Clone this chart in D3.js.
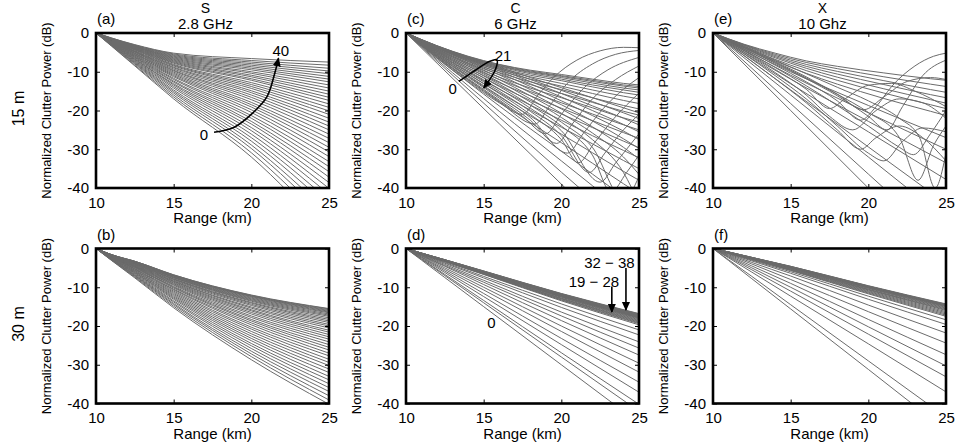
<!DOCTYPE html>
<html lang="en">
  <head>
    <meta charset="UTF-8" />
    <script src="https://d3js.org/d3.v7.min.js"></script>
    <title>Normalized clutter power vs range</title>
    <style>
      body { margin: 0; background: #fff; }
      text { font-family: "Liberation Sans", Arial, sans-serif; fill: #000; }
    </style>
  </head>

  <body>
    <script>
      // range grids (km) the smooth curves were read at
      const rangeFan = [10, 11, 12.5, 15, 20, 25];
      const rangeC15 = [10, 12, 14, 16, 18, 20, 22, 24, 25];

      // (a) S band, 15 m  (dB, one row per curve)
      const sBand15 = [
        [0,-3.4,-8.5,-17.0,-32.0,-52.0],[0,-3.3,-8.3,-16.5,-30.9,-50.0],[0,-3.2,-8.0,-16.0,-29.8,-48.2],
        [0,-3.1,-7.8,-15.5,-28.9,-46.5],[0,-3.1,-7.6,-15.1,-27.9,-44.8],[0,-3.0,-7.4,-14.7,-27.0,-43.2],
        [0,-2.9,-7.2,-14.2,-26.1,-41.6],[0,-2.8,-7.0,-13.8,-25.2,-40.1],[0,-2.8,-6.8,-13.4,-24.4,-38.6],
        [0,-2.7,-6.7,-13.1,-23.5,-37.2],[0,-2.6,-6.5,-12.7,-22.8,-35.8],[0,-2.6,-6.3,-12.4,-22.0,-34.5],
        [0,-2.5,-6.2,-12.0,-21.3,-33.2],[0,-2.4,-6.0,-11.7,-20.5,-31.9],[0,-2.4,-5.9,-11.3,-19.8,-30.7],
        [0,-2.3,-5.7,-11.0,-19.1,-29.5],[0,-2.3,-5.6,-10.7,-18.5,-28.3],[0,-2.2,-5.4,-10.4,-17.9,-27.2],
        [0,-2.2,-5.3,-10.1,-17.2,-26.1],[0,-2.1,-5.2,-9.8,-16.6,-25.0],[0,-2.1,-5.0,-9.6,-16.0,-24.0],
        [0,-2.0,-4.9,-9.3,-15.4,-23.0],[0,-2.0,-4.8,-9.0,-14.9,-22.0],[0,-1.9,-4.7,-8.8,-14.3,-21.0],
        [0,-1.9,-4.6,-8.5,-13.8,-20.1],[0,-1.9,-4.4,-8.3,-13.3,-19.2],[0,-1.8,-4.3,-8.1,-12.8,-18.3],
        [0,-1.8,-4.2,-7.8,-12.2,-17.4],[0,-1.7,-4.1,-7.6,-11.8,-16.6],[0,-1.7,-4.0,-7.4,-11.3,-15.8],
        [0,-1.7,-3.9,-7.2,-10.9,-15.0],[0,-1.6,-3.8,-7.0,-10.4,-14.2],[0,-1.6,-3.7,-6.8,-10.0,-13.4],
        [0,-1.5,-3.6,-6.6,-9.5,-12.6],[0,-1.5,-3.5,-6.4,-9.1,-11.9],[0,-1.5,-3.5,-6.2,-8.7,-11.2],
        [0,-1.4,-3.4,-6.0,-8.3,-10.5],[0,-1.4,-3.3,-5.8,-7.9,-9.8],[0,-1.4,-3.2,-5.6,-7.5,-9.1],
        [0,-1.3,-3.1,-5.4,-7.1,-8.3],[0,-1.3,-3.0,-5.2,-6.6,-7.5]
      ];

      // (b) S band, 30 m
      const sBand30 = [
        [0,-1.6,-3.3,-6.8,-12.0,-15.5],[0,-1.6,-3.3,-6.8,-12.1,-15.6],[0,-1.6,-3.3,-6.9,-12.2,-15.8],
        [0,-1.6,-3.4,-7.0,-12.3,-16.0],[0,-1.6,-3.4,-7.0,-12.4,-16.2],[0,-1.7,-3.5,-7.1,-12.6,-16.4],
        [0,-1.7,-3.5,-7.2,-12.8,-16.6],[0,-1.7,-3.5,-7.3,-13.0,-16.9],[0,-1.7,-3.6,-7.4,-13.2,-17.2],
        [0,-1.7,-3.7,-7.5,-13.4,-17.5],[0,-1.7,-3.7,-7.6,-13.6,-17.9],[0,-1.8,-3.8,-7.8,-13.9,-18.3],
        [0,-1.8,-3.9,-7.9,-14.1,-18.7],[0,-1.8,-3.9,-8.0,-14.4,-19.1],[0,-1.8,-4.0,-8.2,-14.7,-19.6],
        [0,-1.9,-4.1,-8.4,-15.1,-20.0],[0,-1.9,-4.2,-8.5,-15.4,-20.5],[0,-1.9,-4.3,-8.7,-15.8,-21.1],
        [0,-2.0,-4.4,-8.9,-16.1,-21.6],[0,-2.0,-4.5,-9.1,-16.5,-22.2],[0,-2.0,-4.6,-9.3,-16.9,-22.8],
        [0,-2.1,-4.7,-9.5,-17.4,-23.4],[0,-2.1,-4.8,-9.8,-17.8,-24.1],[0,-2.2,-4.9,-10.0,-18.3,-24.8],
        [0,-2.2,-5.0,-10.2,-18.7,-25.5],[0,-2.2,-5.2,-10.5,-19.2,-26.2],[0,-2.3,-5.3,-10.7,-19.7,-27.0],
        [0,-2.3,-5.4,-11.0,-20.3,-27.7],[0,-2.4,-5.6,-11.3,-20.8,-28.6],[0,-2.4,-5.7,-11.6,-21.4,-29.4],
        [0,-2.5,-5.9,-11.9,-22.0,-30.2],[0,-2.5,-6.0,-12.2,-22.6,-31.1],[0,-2.6,-6.2,-12.5,-23.2,-32.0],
        [0,-2.7,-6.3,-12.8,-23.8,-33.0],[0,-2.7,-6.5,-13.1,-24.5,-33.9],[0,-2.8,-6.7,-13.5,-25.1,-34.9],
        [0,-2.8,-6.9,-13.8,-25.8,-35.9],[0,-2.9,-7.0,-14.2,-26.5,-36.9],[0,-3.0,-7.2,-14.5,-27.2,-38.0],
        [0,-3.0,-7.4,-14.9,-27.9,-39.1],[0,-3.1,-7.6,-15.3,-28.7,-40.2]
      ];

      // (c) C band, 15 m: curves 0-21 on the grid, later curves as [km, dB] points
      const cBand15Fan = [
        [0,-7.8,-15.6,-23.4,-31.2,-39.0,-46.8,-54.6,-58.5],[0,-7.3,-14.5,-21.7,-28.8,-35.9,-42.9,-50.0,-53.5],
        [0,-6.9,-13.6,-20.2,-26.6,-33.0,-39.4,-45.8,-49.0],[0,-6.5,-12.7,-18.8,-24.7,-30.5,-36.4,-42.2,-45.0],
        [0,-6.1,-12.0,-17.6,-23.1,-28.3,-33.6,-38.9,-41.5],[0,-5.8,-11.2,-16.4,-21.4,-26.1,-30.9,-35.7,-38.0],
        [0,-5.5,-10.6,-15.4,-19.9,-24.3,-28.6,-32.9,-35.0],[0,-5.2,-10.0,-14.5,-18.6,-22.5,-26.5,-30.3,-32.2],
        [0,-4.9,-9.4,-13.6,-17.4,-20.9,-24.4,-27.9,-29.6],[0,-4.7,-9.0,-12.8,-16.2,-19.4,-22.6,-25.7,-27.2],
        [0,-4.5,-8.5,-12.0,-15.1,-18.0,-20.9,-23.7,-25.0],[0,-4.3,-8.0,-11.4,-14.2,-16.7,-19.3,-21.9,-23.0],
        [0,-4.1,-7.7,-10.7,-13.3,-15.6,-17.9,-20.2,-21.2],[0,-3.9,-7.3,-10.2,-12.6,-14.6,-16.7,-18.7,-19.6],
        [0,-3.8,-7.0,-9.7,-11.9,-13.7,-15.6,-17.4,-18.2],[0,-3.7,-6.8,-9.3,-11.3,-13.0,-14.7,-16.3,-17.0],
        [0,-3.6,-6.6,-9.0,-10.9,-12.3,-13.9,-15.4,-16.0],[0,-3.5,-6.4,-8.7,-10.5,-11.9,-13.4,-14.7,-15.3],
        [0,-3.4,-6.3,-8.5,-10.2,-11.5,-12.9,-14.2,-14.7],[0,-3.4,-6.2,-8.4,-10.0,-11.2,-12.5,-13.7,-14.2],
        [0,-3.3,-6.1,-8.2,-9.8,-11.0,-12.2,-13.4,-13.8],[0,-3.3,-6.0,-8.1,-9.6,-10.7,-11.9,-13.0,-13.4],
        [0,-3.4,-6.2,-8.8,-11.5,-14.1,-16.7,-19.3,-20.6],[0,-3.5,-6.4,-9.1,-12.0,-14.8,-17.7,-20.6,-22.1],
        [0,-3.6,-6.6,-9.4,-12.5,-15.6,-18.8,-22.0,-23.7],[0,-3.7,-6.8,-9.8,-13.1,-16.5,-20.0,-23.6,-25.5],
        [0,-3.8,-7.1,-10.3,-13.8,-17.5,-21.3,-25.3,-27.5],[0,-3.9,-7.4,-10.8,-14.6,-18.5,-22.7,-27.3,-29.8],
        [0,-4.1,-7.8,-11.4,-15.4,-19.6,-24.2,-29.5,-32.5],[0,-4.3,-8.2,-12.0,-16.2,-20.7,-25.8,-32.0,-36.5],
        [0,-4.5,-8.6,-12.6,-17.0,-21.8,-27.5,-36.0,-44.0]
      ];
      const cBand15Lobes = [
        [[10,0],[12,-4.7],[14,-9.0],[16,-13.2],[18,-17.8],[20,-23],[22,-29.5],[24,-43],[25,-37]],
        [[10,0],[12,-4.9],[14,-9.4],[16,-13.8],[18,-18.6],[20,-24],[22,-31.5],[23.2,-41],[24.2,-36],[25,-31.5]],
        [[10,0],[12,-5.1],[14,-9.8],[16,-14.4],[18,-19.4],[20,-25.2],[22.5,-38.5],[23.5,-33.5],[25,-26]],
        [[10,0],[12,-5.3],[14,-10.2],[16,-15],[18,-20.2],[20,-26.5],[21.8,-36],[22.8,-31],[24,-25],[25,-21]],
        [[10,0],[12,-5.5],[14,-10.6],[16,-15.6],[18,-21],[20,-27.5],[21.1,-33.5],[22.1,-28.5],[23.4,-22],[25,-15.5]],
        [[10,0],[12,-5.7],[14,-11.0],[16,-16.2],[18,-21.8],[20.4,-31],[21.4,-26],[22.7,-19.5],[24,-14.5],[25,-11.5]],
        [[10,0],[12,-5.9],[14,-11.4],[16,-16.8],[18,-22.5],[19.7,-28.5],[20.7,-23.5],[22,-17],[23.5,-12],[25,-8.5]],
        [[10,0],[12,-6.1],[14,-11.8],[16,-17.3],[17.5,-21.5],[19,-26],[20,-21],[21.5,-14],[23,-9.5],[25,-6.3]],
        [[10,0],[12,-6.3],[14,-12.2],[16,-17.8],[18.3,-23.5],[19.3,-18.5],[20.5,-12.5],[22,-8],[23.5,-5.5],[25,-4.5]],
        [[10,0],[12,-6.5],[14,-12.5],[16,-18],[17.5,-21],[18.5,-16],[19.5,-11.5],[21,-7],[22.5,-4.6],[24,-3.7],[25,-3.8]]
      ];

      // (d) C band, 30 m
      const cBand30 = [
        [0,-3.0,-7.5,-15.0,-30.0,-45.0],[0,-2.8,-7.0,-14.0,-28.0,-42.0],[0,-2.7,-6.7,-13.4,-26.9,-40.2],
        [0,-2.5,-6.2,-12.4,-24.8,-37.1],[0,-2.3,-5.8,-11.6,-23.2,-34.5],[0,-2.2,-5.4,-10.7,-21.4,-31.9],
        [0,-2.0,-5.0,-10.0,-20.0,-29.6],[0,-1.9,-4.6,-9.3,-18.6,-27.5],[0,-1.8,-4.4,-8.7,-17.4,-25.7],
        [0,-1.7,-4.1,-8.2,-16.4,-24.1],[0,-1.6,-3.8,-7.6,-15.2,-22.3],[0,-1.5,-3.6,-7.2,-14.3,-21.0],
        [0,-1.4,-3.4,-6.7,-13.5,-19.7],[0,-1.4,-3.3,-6.6,-13.3,-19.4],[0,-1.4,-3.3,-6.6,-13.2,-19.2],
        [0,-1.3,-3.3,-6.5,-13.0,-19.0],[0,-1.3,-3.2,-6.5,-12.9,-18.8],[0,-1.3,-3.2,-6.4,-12.8,-18.6],
        [0,-1.3,-3.2,-6.3,-12.6,-18.4],[0,-1.3,-3.1,-6.3,-12.5,-18.2],[0,-1.3,-3.1,-6.2,-12.4,-18.0],
        [0,-1.3,-3.1,-6.2,-12.3,-17.9],[0,-1.3,-3.1,-6.1,-12.2,-17.8],[0,-1.3,-3.0,-6.1,-12.2,-17.7],
        [0,-1.3,-3.0,-6.1,-12.1,-17.6],[0,-1.2,-3.0,-6.0,-12.1,-17.5],[0,-1.2,-3.0,-6.0,-12.0,-17.4],
        [0,-1.2,-3.0,-6.0,-11.9,-17.3],[0,-1.2,-3.0,-5.9,-11.9,-17.2],[0,-1.2,-2.9,-5.9,-11.8,-17.1],
        [0,-1.2,-2.9,-5.9,-11.7,-17.0],[0,-1.2,-2.9,-5.8,-11.7,-16.9],[0,-1.2,-2.9,-5.8,-11.6,-16.8]
      ];

      // (e) X band, 15 m, as [km, dB] points
      const xBand15 = [
        [[10,0],[15,-20],[20,-40],[25,-60]],
        [[10,0],[15,-18.2],[20,-36.4],[25,-54.5]],
        [[10,0],[15,-16],[20,-32],[25,-48]],
        [[10,0],[15,-14.7],[20,-29.4],[25,-44]],
        [[10,0],[12,-5.3],[15,-13.1],[20,-25.5],[25,-37.8]],
        [[10,0],[12,-4.9],[15,-11.9],[20,-22.8],[25,-33.5]],
        [[10,0],[12,-4.5],[15,-10.9],[20,-20.6],[25,-30.0]],
        [[10,0],[12,-4.2],[15,-10.0],[20,-18.7],[25,-27.0]],
        [[10,0],[12,-2.9],[14,-5.2],[16,-7.2],[18,-8.6],[21,-10.3],[24,-11.8],[25,-12.2]],
        [[10,0],[12,-3.0],[14,-5.5],[16,-7.6],[18,-9.2],[21,-11.3],[24,-13.2],[25,-13.8]],
        [[10,0],[12,-3.1],[14,-5.8],[16,-8.1],[18,-9.9],[21,-12.3],[24,-14.6],[25,-15.3]],
        [[10,0],[12,-3.2],[14,-6.1],[16,-8.6],[18,-10.6],[21,-13.3],[24,-15.9],[25,-16.7]],
        [[10,0],[12,-3.4],[14,-6.4],[16,-9.1],[18,-11.4],[21,-14.4],[24,-17.2],[25,-18.1]],
        [[10,0],[12,-3.5],[14,-6.8],[16,-9.7],[18,-12.2],[21,-15.5],[24,-18.5],[25,-19.5]],
        [[10,0],[12,-3.7],[14,-7.2],[16,-10.4],[18,-13.2],[21,-16.9],[24,-20.2],[25,-21.3]],
        [[10,0],[12,-4.1],[14,-8.3],[16,-12.6],[18,-17.5],[19.5,-22.5],[20.5,-19],[21.5,-13.8],[23,-8.5],[24.2,-6],[25,-5.2]],
        [[10,0],[12,-3.9],[14,-7.8],[16,-11.8],[18,-16.2],[20,-21.5],[21.2,-25],[22.2,-19],[23.5,-11],[25,-7.0]],
        [[10,0],[12,-3.7],[14,-7.4],[16,-11.3],[18,-15.8],[19.7,-19.8],[21,-16.5],[22.5,-12.5],[24,-11.5],[25,-12]],
        [[10,0],[12,-4.4],[14,-8.9],[16,-13.6],[18,-18.7],[20,-24],[22,-29.5],[22.9,-31.4],[24,-26],[25,-20]],
        [[10,0],[12,-3.8],[14,-7.6],[16,-11.6],[18,-15.8],[20,-20.5],[22,-27],[23.2,-38],[24.2,-29],[25,-24]],
        [[10,0],[12,-4.6],[14,-9.4],[16,-14.5],[17.5,-19.5],[18.5,-17],[20,-13.5],[21.5,-13],[23,-15],[25,-19]],
        [[10,0],[12,-5.0],[14,-10.2],[16,-16],[17.5,-21.5],[19,-25],[20.5,-20],[22,-17],[23.5,-18],[25,-22]],
        [[10,0],[12,-5.4],[14,-11],[16,-17],[18,-24],[20,-31],[21,-33],[22.2,-28],[23.5,-24.5],[25,-25.5]],
        [[10,0],[12,-3.5],[14,-7],[16,-10.5],[18,-14],[20,-17.5],[22,-22],[23.3,-27],[24.3,-40],[25,-31]],
        [[10,0],[12,-5.8],[14,-11.8],[16,-18],[18,-25],[19.5,-30],[20.5,-27],[22,-24],[23.5,-27],[25,-33]]
      ];

      // (f) X band, 30 m
      const xBand30 = [
        [0,-3.1,-7.8,-15.6,-31.2,-46.9],[0,-2.9,-7.2,-14.5,-29.0,-43.5],[0,-2.4,-6.1,-12.3,-24.6,-37.0],
        [0,-2.2,-5.5,-11.0,-22.1,-33.1],[0,-2.0,-5.0,-10.0,-20.2,-30.3],[0,-1.8,-4.5,-9.0,-18.3,-27.4],
        [0,-1.6,-4.0,-8.0,-16.3,-24.4],[0,-1.4,-3.6,-7.1,-14.6,-21.8],[0,-1.3,-3.2,-6.4,-13.1,-19.6],
        [0,-1.2,-3.0,-6.0,-12.3,-18.4],[0,-1.1,-2.8,-5.7,-11.7,-17.5],[0,-1.1,-2.8,-5.6,-11.5,-17.2],
        [0,-1.1,-2.7,-5.5,-11.3,-16.9],[0,-1.1,-2.7,-5.4,-11.1,-16.6],[0,-1.0,-2.6,-5.3,-10.9,-16.3],
        [0,-1.0,-2.6,-5.2,-10.7,-16.0],[0,-1.0,-2.6,-5.1,-10.6,-15.8],[0,-1.0,-2.5,-5.0,-10.5,-15.6],
        [0,-1.0,-2.5,-5.0,-10.3,-15.4],[0,-1.0,-2.5,-4.9,-10.2,-15.2],[0,-1.0,-2.4,-4.8,-10.1,-15.0],
        [0,-1.0,-2.4,-4.8,-10.0,-14.9],[0,-0.9,-2.4,-4.8,-9.9,-14.8],[0,-0.9,-2.4,-4.7,-9.9,-14.7],
        [0,-0.9,-2.3,-4.7,-9.8,-14.6],[0,-0.9,-2.3,-4.7,-9.7,-14.5],[0,-0.9,-2.3,-4.6,-9.7,-14.4],
        [0,-0.9,-2.3,-4.6,-9.6,-14.3]
      ];

      const xTicks = [10, 15, 20, 25];
      const yTicks = [0, -10, -20, -30, -40];
      const bandNames = ["S", "C", "X"];
      const bandFreqs = ["2.8 GHz", "6 GHz", "10 Ghz"];
      const heightLabels = ["15 m", "30 m"];

      // grid-based sets turn into [km, dB] points here
      const onGrid = (grid, rows) => rows.map((r) => r.map((v, i) => [grid[i], v]));

      const panels = [
        { id: "a", col: 0, row: 0, curves: onGrid(rangeFan, sBand15) },
        { id: "b", col: 0, row: 1, curves: onGrid(rangeFan, sBand30) },
        { id: "c", col: 1, row: 0, curves: onGrid(rangeC15, cBand15Fan).concat(cBand15Lobes) },
        { id: "d", col: 1, row: 1, curves: onGrid(rangeFan, cBand30) },
        { id: "e", col: 2, row: 0, curves: xBand15 },
        { id: "f", col: 2, row: 1, curves: onGrid(rangeFan, xBand30) }
      ];

      // annotations, in km / dB
      const notes = {
        a: { texts: [["0", 16.95, -26.3], ["40", 21.9, -4.6]],
             arrows: [[[17.6,-25.6],[18.9,-24.3],[20.1,-20.6],[21.0,-16.5],[21.5,-10.5],[21.75,-6.5]]] },
        c: { texts: [["0", 13.0, -14.2], ["21", 16.25, -5.7]],
             arrows: [[[13.4,-12.5],[14.5,-9.5],[15.4,-7.3],[15.85,-6.9],[15.75,-9.5],[15.0,-14.2]]] },
        d: { texts: [["0", 15.5, -19.1], ["19 \u2212 28", 22.1, -8.6], ["32 \u2212 38", 23.1, -3.6]],
             arrows: [[[23.25,-9.8],[23.25,-16.4]], [[24.16,-5.0],[24.16,-15.9]]] }
      };

      const W = 956, H = 448;
      const lefts = [96, 406, 713], tops = [33, 248.5];
      const pw = 233, ph = 155;

      const svg = d3.select("body").append("svg").attr("width", W).attr("height", H);

      svg.append("defs").append("marker")
        .attr("id", "head")
        .attr("viewBox", "0 0 10 10")
        .attr("refX", 9).attr("refY", 5)
        .attr("markerUnits", "userSpaceOnUse")
        .attr("markerWidth", 9).attr("markerHeight", 9)
        .attr("orient", "auto")
        .append("path").attr("d", "M0,0.5 L10,5 L0,9.5 z").attr("fill", "#000");

      panels.forEach((p) => {
        const x0 = lefts[p.col], y0 = tops[p.row];
        const x = d3.scaleLinear().domain([10, 25]).range([x0, x0 + pw]);
        const y = d3.scaleLinear().domain([-40, 0]).range([y0 + ph, y0]);
        const g = svg.append("g");

        g.append("clipPath").attr("id", "clip-" + p.id)
          .append("rect").attr("x", x0).attr("y", y0).attr("width", pw).attr("height", ph);

        const line = d3.line()
          .x((d) => x(d[0]))
          .y((d) => y(d[1]))
          .curve(d3.curveMonotoneX);

        g.append("g").attr("clip-path", `url(#clip-${p.id})`)
          .selectAll("path")
          .data(p.curves)
          .join("path")
          .attr("d", line)
          .attr("fill", "none")
          .attr("stroke", "#6b6b6b")
          .attr("stroke-width", 1);

        // axes with inward ticks
        const fmt = (d) => String(d);
        const axB = g.append("g").attr("transform", `translate(0,${y0 + ph})`)
          .call(d3.axisBottom(x).tickValues(xTicks).tickSize(-4).tickPadding(9).tickFormat(fmt));
        const axL = g.append("g").attr("transform", `translate(${x0},0)`)
          .call(d3.axisLeft(y).tickValues(yTicks).tickSize(-4).tickPadding(7).tickFormat(fmt));
        const axT = g.append("g").attr("transform", `translate(0,${y0})`)
          .call(d3.axisTop(x).tickValues(xTicks).tickSize(-4).tickFormat(""));
        const axR = g.append("g").attr("transform", `translate(${x0 + pw},0)`)
          .call(d3.axisRight(y).tickValues(yTicks).tickSize(-4).tickFormat(""));
        [axB, axL, axT, axR].forEach((a) => {
          a.select(".domain").remove();
          a.attr("font-family", null).attr("font-size", 15);
          a.selectAll("line").attr("stroke", "#000");
        });

        g.append("rect")
          .attr("x", x0).attr("y", y0).attr("width", pw).attr("height", ph)
          .attr("fill", "none").attr("stroke", "#000").attr("stroke-width", 2.6);

        g.append("text").attr("x", x0 + 1).attr("y", y0 - 9)
          .attr("font-size", 15).text(`(${p.id})`);

        g.append("text")
          .attr("transform", `translate(${x0 - 50},${y0 + ph / 2}) rotate(-90)`)
          .attr("text-anchor", "middle").attr("dominant-baseline", "central")
          .attr("font-size", 13).text("Normalized Clutter Power (dB)");

        g.append("text").attr("x", x0 + pw / 2).attr("y", y0 + ph + 35)
          .attr("text-anchor", "middle").attr("font-size", 15).text("Range (km)");

        const n = notes[p.id];
        if (n) {
          n.texts.forEach((t) => {
            g.append("text").attr("x", x(t[1])).attr("y", y(t[2]))
              .attr("text-anchor", "middle").attr("dominant-baseline", "central")
              .attr("font-size", 15).text(t[0]);
          });
          const arrowLine = d3.line().x((d) => x(d[0])).y((d) => y(d[1])).curve(d3.curveCatmullRom);
          n.arrows.forEach((a) => {
            g.append("path").attr("d", arrowLine(a))
              .attr("fill", "none").attr("stroke", "#000").attr("stroke-width", 1.6)
              .attr("marker-end", "url(#head)");
          });
        }
      });

      // column titles
      bandNames.forEach((b, i) => {
        const cx = lefts[i] + pw / 2 - 7;
        svg.append("text").attr("x", cx).attr("y", 13)
          .attr("text-anchor", "middle").attr("font-size", 14).text(b);
        svg.append("text").attr("x", cx).attr("y", 29)
          .attr("text-anchor", "middle").attr("font-size", 15).text(bandFreqs[i]);
      });

      // row labels
      heightLabels.forEach((h, i) => {
        svg.append("text")
          .attr("transform", `translate(18,${tops[i] + ph / 2 - 2}) rotate(-90)`)
          .attr("text-anchor", "middle").attr("dominant-baseline", "central")
          .attr("font-size", 16).text(h);
      });
    </script>
  </body>
</html>
